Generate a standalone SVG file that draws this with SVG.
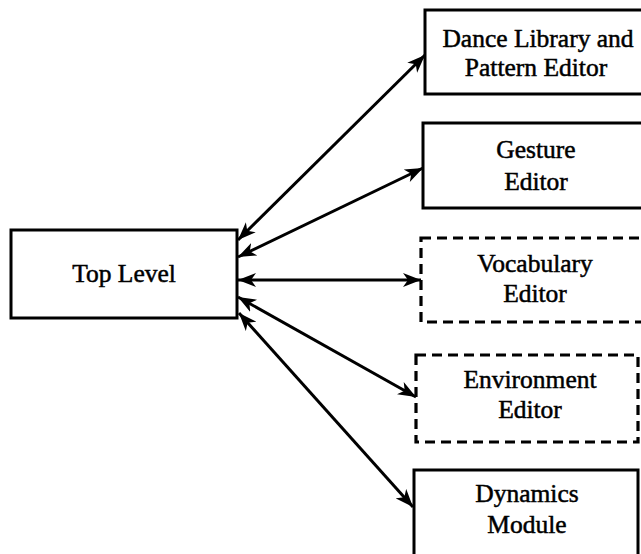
<svg xmlns="http://www.w3.org/2000/svg" width="641" height="554" viewBox="0 0 641 554">
<style>
.box{fill:#fff;stroke:#000;stroke-width:3}
.dash{stroke-dasharray:10 6;stroke-width:3.2}
.t{font-family:"Liberation Serif","Times New Roman",serif;font-size:25.5px;fill:#000;stroke:#000;stroke-width:0.5;text-anchor:middle}
.c{stroke:#000;stroke-width:3;fill:none;marker-start:url(#ah);marker-end:url(#ah)}
</style>
<defs>
<marker id="ah" markerUnits="userSpaceOnUse" markerWidth="20" markerHeight="16" refX="18" refY="7" orient="auto-start-reverse" viewBox="0 0 20 14">
<path d="M0,0 L18,7 L0,14 L5,7 z" fill="#000"/>
</marker>
</defs>
<rect width="641" height="554" fill="#fff"/>
<g id="connectors">
<line class="c" x1="238" y1="240" x2="425" y2="55"/>
<line class="c" x1="238" y1="257" x2="423" y2="168"/>
<line class="c" x1="238" y1="280" x2="421" y2="280"/>
<line class="c" x1="238" y1="297" x2="416" y2="397"/>
<line class="c" x1="239" y1="313" x2="413" y2="507"/>
</g>
<g id="top-level">
<rect class="box" x="11" y="230" width="226" height="88"/>
<text class="t" x="124" y="282">Top Level</text>
</g>
<g id="dance-library">
<rect class="box" x="425" y="10" width="230" height="84"/>
<text class="t" x="538" y="47">Dance Library and</text>
<text class="t" x="536" y="76">Pattern Editor</text>
</g>
<g id="gesture-editor">
<rect class="box" x="423" y="123" width="230" height="85"/>
<text class="t" x="536" y="158">Gesture</text>
<text class="t" x="536" y="190">Editor</text>
</g>
<g id="vocabulary-editor">
<rect class="box dash" x="421" y="238" width="230" height="84"/>
<text class="t" x="535" y="272">Vocabulary</text>
<text class="t" x="535" y="302">Editor</text>
</g>
<g id="environment-editor">
<rect class="box dash" x="416" y="355" width="222" height="87"/>
<text class="t" x="530" y="388">Environment</text>
<text class="t" x="530" y="418">Editor</text>
</g>
<g id="dynamics-module">
<rect class="box" x="414" y="470" width="224" height="90"/>
<text class="t" x="527" y="502">Dynamics</text>
<text class="t" x="527" y="533">Module</text>
</g>
</svg>
